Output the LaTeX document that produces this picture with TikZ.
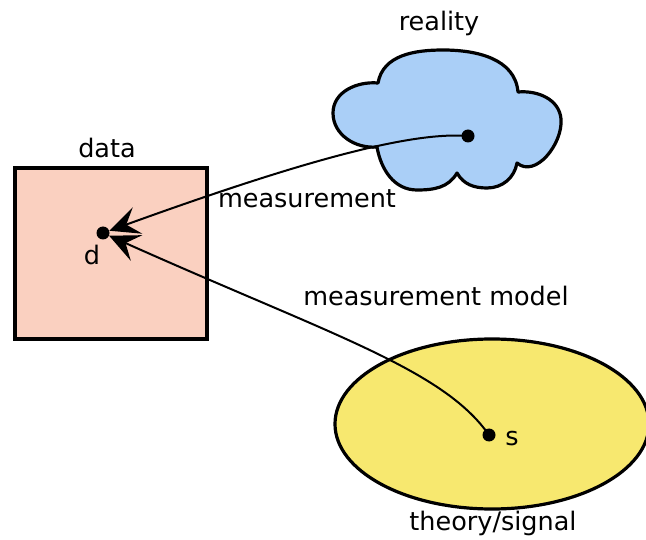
\documentclass[tikz,border=0pt]{standalone}
\usepackage{fontspec}
\setmainfont{DejaVu Sans}
\usetikzlibrary{arrows.meta}
\definecolor{datafill}{RGB}{250,208,192}
\definecolor{cloudfill}{RGB}{170,207,247}
\definecolor{theoryfill}{RGB}{247,232,111}
\begin{document}
\begin{tikzpicture}[x=1pt,y=1pt,
  lbl/.style={font=\fontsize{25.5}{30}\selectfont, inner sep=0pt, anchor=base},
  dot/.style={circle, fill=black, inner sep=0pt, minimum size=13pt},
  region/.style={line width=3.2pt},
  link/.style={line width=2pt, -{Stealth[length=30pt, width=28pt, inset=12pt]}}]
\useasboundingbox (0,0) rectangle (646,539);

% data box
\draw[region, fill=datafill] (15,200) rectangle (207,371);
\node[lbl] (datalbl) at (107,381) {data};

% reality cloud
\draw[region, fill=cloudfill, line join=round]
  (378,456) to[out=80,in=180] (443,489)
            to[out=0,in=95] (518,447)
            to[out=5,in=95] (561,420)
            to[out=-85,in=-40] (517,376)
            to[out=-100,in=0] (487,351)
            to[out=180,in=-60] (457,366)
            to[out=-120,in=0] (417,349)
            to[out=180,in=-80] (377,392)
            to[out=185,in=-90] (333,426)
            to[out=90,in=175] (378,456) -- cycle;
\node[lbl] (reallbl) at (439,508) {reality};

% theory ellipse (runs past the right edge)
\begin{scope}
\clip (0,0) rectangle (646,539);
\draw[region, fill=theoryfill] (492,115) ellipse [x radius=157, y radius=85];
\end{scope}
\node[lbl] (theolbl) at (493,9) {theory/signal};

% points
\node[dot] (r) at (468,403) {};
\node[dot] (d) at (103,306) {};
\node[dot] (s) at (489,104) {};
\node[lbl] (dlbl) at (92,274) {d};
\node[lbl] (slbl) at (512,93) {s};

% connectors
\draw[link] (r.center) .. controls (408,408) and (291,374) .. (d);
\draw[link] (s.center) .. controls (443,170) and (331,204) .. (d);
\node[lbl] (meas) at (307,331) {measurement};
\node[lbl] (model) at (436,233) {measurement model};
\end{tikzpicture}
\end{document}
